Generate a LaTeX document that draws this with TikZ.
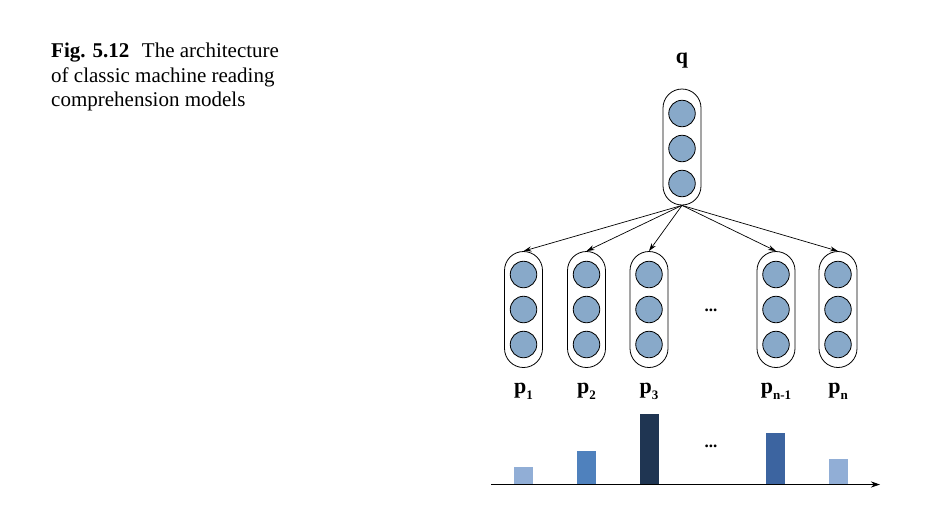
\documentclass[tikz,border=0pt]{standalone}
\usepackage{fontspec}
\setmainfont{Liberation Serif}
\usetikzlibrary{arrows.meta}
\definecolor{cellblue}{HTML}{88A9C9}
\definecolor{barlight}{HTML}{91AED6}
\definecolor{barmid}{HTML}{4F81BD}
\definecolor{bardark}{HTML}{1F3552}
\definecolor{barstrong}{HTML}{3C64A0}
\newcommand{\sub}[1]{\raisebox{-0.28em}{\fontsize{13}{13}\selectfont #1}}
\tikzset{
  pill/.style={draw, line width=0.8pt, rounded corners=19pt, minimum width=38pt, minimum height=116pt, inner sep=0pt},
  cell/.style={circle, draw, line width=0.8pt, fill=cellblue, minimum size=26.5pt, inner sep=0pt},
  conn/.style={line width=0.7pt, -{Stealth[length=8pt,width=5pt]}},
  lbl/.style={font=\fontsize{22}{24}\selectfont\bfseries, inner sep=0pt},
  bar/.style={anchor=south, minimum width=19pt, inner sep=0pt, draw=none},
  dots/.style={font=\fontsize{17}{18}\selectfont\bfseries, inner sep=0pt}
}
\begin{document}
\begin{tikzpicture}[x=1pt,y=-1pt]
\useasboundingbox (0,0) rectangle (950,525);
% caption
\node[anchor=north west, inner sep=0pt, align=left, font=\fontsize{21}{24.5}\selectfont] (cap) at (51,43)
  {\textbf{Fig. 5.12}\hspace{0.6em}The architecture\\of classic machine reading\\comprehension models};
% q
\node[lbl, anchor=base] (ql) at (682,63) {q};
\node[pill] (q) at (682,147) {};
\node[cell] (qc1) at (682,113.5) {};
\node[cell] (qc2) at (682,148.5) {};
\node[cell] (qc3) at (682,183.5) {};
% p pills
\foreach \i/\x in {1/523.5,2/586.5,3/649,4/776,5/838}{
  \node[pill] (p\i) at (\x,309.5) {};
  \node[cell] (p\i c1) at (\x,274.5) {};
  \node[cell] (p\i c2) at (\x,309.5) {};
  \node[cell] (p\i c3) at (\x,344.5) {};
}
\node[dots] (pdots) at (711,310) {...};
% labels
\node[lbl, anchor=base] (l1) at (523.5,393) {p\sub{1}};
\node[lbl, anchor=base] (l2) at (586.5,393) {p\sub{2}};
\node[lbl, anchor=base] (l3) at (649,393) {p\sub{3}};
\node[lbl, anchor=base] (l4) at (776,393) {p\sub{n-1}};
\node[lbl, anchor=base] (l5) at (838,393) {p\sub{n}};
% connectors
\foreach \i in {1,...,5}{
  \draw[conn] (q.south) -- (p\i.north);
}
% bar chart
\coordinate (ax0) at (491,484.5);
\coordinate (ax1) at (880,484.5);
\node[bar, fill=barlight, minimum height=17.5pt] (b1) at (523.5,484.5) {};
\node[bar, fill=barmid, minimum height=33.5pt] (b2) at (586.5,484.5) {};
\node[bar, fill=bardark, minimum height=70.5pt] (b3) at (649.5,484.5) {};
\node[bar, fill=barstrong, minimum height=51.5pt] (b4) at (775.5,484.5) {};
\node[bar, fill=barlight, minimum height=25.5pt] (b5) at (838.5,484.5) {};
\node[dots] (bdots) at (711,446) {...};
\draw[line width=0.8pt, -{Stealth[length=9pt,width=6pt]}] (ax0) -- (ax1);
\end{tikzpicture}
\end{document}
